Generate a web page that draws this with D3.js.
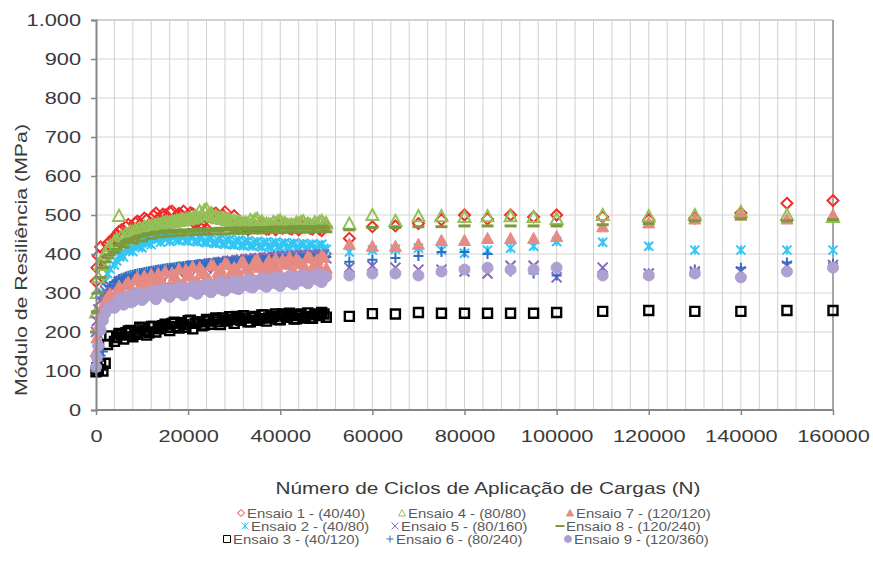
<!DOCTYPE html>
<html>
<head>
<meta charset="utf-8">
<script src="https://cdn.jsdelivr.net/npm/d3@7/dist/d3.min.js"></script>
<style>
  body { margin: 0; background: #fff; }
  text { font-family: "Liberation Sans", Arial, sans-serif; }
</style>
</head>
<body>
<div id="chart"></div>
<script>
// data
// dense part of the test (0 - 50000 cycles), two interleaved readings
var denseX = [0, 200, 500, 1000, 1500, 2000, 2500, 3000, 4000, 5000,
  6000, 7000, 8000, 9000, 10000, 11000, 12000, 13000, 14000, 15000,
  16000, 17000, 18000, 19000, 20000, 21000, 22000, 23000, 24000, 25000,
  26000, 27000, 28000, 29000, 30000, 31000, 32000, 33000, 34000, 35000,
  36000, 37000, 38000, 39000, 40000, 41000, 42000, 43000, 44000, 45000,
  46000, 47000, 48000, 49000, 50000];
var midX = [4500, 5500, 6500, 7500, 8500, 9500, 10500, 11500, 12500, 13500,
  14500, 15500, 16500, 17500, 18500, 19500, 20500, 21500, 22500, 23500,
  24500, 25500, 26500, 27500, 28500, 29500, 30500, 31500, 32500, 33500,
  34500, 35500, 36500, 37500, 38500, 39500, 40500, 41500, 42500, 43500,
  44500, 45500, 46500, 47500, 48500, 49500];
var sparseX = [55000, 60000, 65000, 70000, 75000, 80000, 85000, 90000, 95000, 100000,
  110000, 120000, 130000, 140000, 150000, 160000];

var ens1Dense = [330, 365, 395, 418, 385, 405, 425, 432, 440, 458,
  448, 476, 460, 484, 466, 488, 470, 505, 480, 500,
  508, 484, 504, 510, 488, 503, 482, 476, 464, 494,
  505, 490, 508, 484, 498, 476, 470, 462, 478, 468,
  476, 464, 474, 462, 472, 478, 466, 474, 462, 472,
  478, 464, 474, 460, 470];
var ens2Dense = [130, 155, 195, 255, 300, 330, 350, 362, 372, 394,
  392, 410, 406, 421, 416, 431, 424, 440, 430, 444,
  432, 446, 434, 447, 433, 446, 431, 444, 429, 442,
  427, 440, 425, 438, 423, 436, 421, 434, 420, 432,
  418, 431, 417, 430, 416, 429, 415, 428, 414, 427,
  413, 426, 412, 425, 412];
var ens3Dense = [98, 108, 104, 115, 100, 120, 168, 190, 176, 196,
  182, 203, 188, 198, 210, 192, 214, 200, 208, 220,
  204, 225, 210, 219, 229, 208, 226, 216, 232, 220,
  236, 219, 230, 239, 222, 235, 242, 226, 238, 230,
  244, 228, 238, 246, 231, 241, 248, 233, 243, 236,
  249, 235, 244, 250, 238];
var ens4Dense = [250, 300, 340, 372, 392, 402, 412, 420, 432, 498,
  442, 450, 456, 461, 464, 468, 471, 474, 476, 479,
  481, 483, 485, 487, 489, 491, 494, 503, 515, 505,
  498, 494, 491, 489, 486, 483, 480, 478, 482, 490,
  484, 477, 475, 478, 486, 480, 475, 473, 478, 484,
  477, 472, 478, 485, 479];
var ens5Dense = [200, 228, 258, 280, 295, 305, 312, 318, 316, 330,
  324, 338, 330, 344, 334, 350, 338, 354, 343, 358,
  348, 362, 352, 366, 356, 370, 360, 373, 363, 376,
  366, 379, 369, 382, 371, 384, 373, 386, 375, 388,
  377, 390, 379, 392, 381, 393, 383, 394, 385, 396,
  386, 397, 388, 398, 389];
var ens6Dense = [100, 112, 126, 140, 150, 245, 298, 318, 328, 336,
  340, 344, 347, 350, 352, 355, 357, 359, 361, 363,
  365, 366, 368, 369, 371, 372, 373, 374, 375, 376,
  377, 378, 379, 380, 381, 381, 382, 383, 383, 384,
  385, 385, 386, 386, 387, 387, 388, 388, 389, 389,
  390, 390, 391, 391, 392];
var ens7Dense = [150, 185, 215, 245, 265, 280, 290, 298, 290, 318,
  296, 328, 305, 340, 312, 322, 348, 310, 335, 356,
  318, 345, 362, 326, 352, 368, 330, 358, 340, 372,
  334, 362, 376, 340, 366, 350, 380, 344, 370, 386,
  348, 374, 356, 388, 350, 378, 392, 355, 382, 362,
  394, 358, 386, 396, 364];
var ens8Dense = [200, 252, 300, 340, 365, 380, 390, 398, 404, 422,
  418, 436, 428, 444, 434, 450, 440, 455, 444, 459,
  446, 461, 448, 462, 449, 463, 450, 464, 451, 465,
  452, 466, 452, 466, 453, 467, 453, 467, 454, 468,
  454, 468, 455, 469, 455, 469, 456, 470, 456, 470,
  456, 470, 457, 471, 457];
var ens9Dense = [110, 135, 165, 205, 230, 248, 258, 265, 262, 285,
  270, 292, 278, 300, 282, 296, 305, 284, 300, 310,
  290, 306, 314, 294, 310, 318, 298, 312, 322, 302,
  318, 328, 306, 320, 332, 310, 325, 334, 314, 328,
  338, 316, 330, 340, 318, 333, 344, 322, 336, 346,
  325, 340, 348, 328, 342];

var ens1Mid = [450, 462, 470, 458, 480, 474, 492, 468, 498, 490,
  502, 495, 510, 486, 500, 492, 506, 478, 470, 486,
  498, 502, 494, 500, 488, 474, 468, 476, 470, 466,
  472, 468, 476, 464, 470, 474, 466, 470, 464, 472,
  468, 474, 466, 470, 464, 468];
var ens2Mid = [382, 400, 414, 412, 426, 420, 436, 428, 442, 438,
  444, 440, 446, 437, 444, 435, 442, 433, 440, 431,
  438, 429, 436, 427, 434, 425, 432, 423, 430, 422,
  429, 421, 428, 420, 427, 419, 426, 418, 425, 417,
  424, 416, 423, 415, 422, 414];
var ens3Mid = [186, 192, 198, 204, 194, 212, 204, 198, 214, 210,
  216, 212, 222, 214, 224, 212, 230, 222, 226, 218,
  228, 232, 226, 236, 228, 232, 240, 230, 236, 226,
  240, 234, 244, 236, 240, 232, 246, 238, 242, 234,
  246, 240, 236, 246, 242, 246];
var ens4Mid = [436, 446, 452, 458, 462, 466, 470, 472, 475, 477,
  480, 482, 484, 486, 488, 490, 492, 498, 510, 512,
  500, 496, 492, 490, 487, 484, 481, 479, 480, 487,
  488, 480, 476, 476, 482, 484, 478, 474, 475, 481,
  482, 474, 475, 481, 482, 478];
var ens5Mid = [322, 328, 334, 336, 340, 343, 346, 349, 351, 354,
  356, 358, 360, 362, 364, 366, 368, 370, 372, 374,
  376, 377, 379, 380, 382, 383, 384, 386, 387, 388,
  389, 390, 391, 392, 393, 394, 395, 395, 396, 396,
  397, 397, 398, 398, 399, 399];
var ens6Mid = [332, 338, 342, 346, 349, 351, 354, 356, 358, 360,
  362, 364, 365, 367, 368, 370, 371, 372, 373, 374,
  375, 376, 377, 378, 379, 380, 380, 381, 382, 383,
  383, 384, 384, 385, 385, 386, 386, 387, 387, 388,
  388, 389, 389, 390, 390, 391];
var ens7Mid = [305, 300, 322, 300, 334, 318, 344, 304, 330, 350,
  326, 312, 352, 336, 320, 360, 344, 328, 366, 350,
  336, 370, 354, 342, 374, 358, 346, 378, 362, 350,
  382, 366, 354, 384, 370, 358, 386, 374, 360, 388,
  376, 364, 390, 378, 366, 392];
var ens8Mid = [412, 426, 432, 438, 440, 446, 448, 452, 452, 456,
  454, 458, 456, 460, 457, 460, 458, 461, 459, 462,
  460, 463, 460, 463, 461, 464, 461, 464, 462, 465,
  462, 465, 463, 466, 463, 466, 464, 467, 464, 467,
  465, 468, 465, 468, 466, 468];
var ens9Mid = [272, 280, 286, 276, 294, 290, 288, 298, 292, 306,
  300, 296, 308, 302, 300, 312, 306, 302, 316, 310,
  306, 320, 312, 308, 324, 316, 312, 328, 320, 316,
  332, 324, 320, 336, 326, 322, 338, 330, 326, 340,
  332, 330, 342, 336, 332, 344];

var ens1Sparse = [440, 470, 472, 478, 488, 500, 490, 500, 495, 500, 495, 488, 492, 505, 530, 537];
var ens2Sparse = [405, 410, 412, 415, 410, 402, 410, 415, 420, 432, 430, 420, 410, 410, 410, 410];
var ens3Sparse = [240, 247, 246, 250, 248, 248, 248, 248, 248, 250, 253, 255, 253, 253, 255, 255];
var ens4Sparse = [478, 500, 485, 497, 497, 495, 497, 497, 495, 490, 500, 497, 500, 508, 500, 495];
var ens5Sparse = [365, 370, 365, 360, 360, 355, 350, 370, 370, 340, 365, 350, 355, 355, 370, 372];
var ens6Sparse = [380, 385, 390, 395, 405, 405, 400, 355, 350, 345, 350, 350, 360, 365, 378, 375];
var ens7Sparse = [425, 420, 420, 425, 435, 435, 440, 440, 440, 445, 470, 480, 490, 500, 490, 500];
var ens8Sparse = [462, 468, 468, 470, 470, 472, 472, 472, 472, 472, 475, 478, 485, 490, 485, 488];
var ens9Sparse = [345, 350, 350, 345, 355, 360, 365, 360, 360, 365, 345, 345, 350, 340, 355, 365];

var seriesNames = ["Ensaio 1 - (40/40)", "Ensaio 2 - (40/80)", "Ensaio 3 - (40/120)",
  "Ensaio 4 - (80/80)", "Ensaio 5 - (80/160)", "Ensaio 6 - (80/240)",
  "Ensaio 7 - (120/120)", "Ensaio 8 - (120/240)", "Ensaio 9 - (120/360)"];

var yTicks = [0, 100, 200, 300, 400, 500, 600, 700, 800, 900, 1000];
var yTickLabels = ["0", "100", "200", "300", "400", "500", "600", "700", "800", "900", "1.000"];
var xTicks = [0, 20000, 40000, 60000, 80000, 100000, 120000, 140000, 160000];

// marker look for each series
var styles = [
  {shape: "diamond", color: "#f22b2b", fill: false},
  {shape: "star", color: "#33c6f4", fill: false},
  {shape: "square", color: "#000000", fill: false},
  {shape: "triangle", color: "#93c057", fill: false},
  {shape: "x", color: "#8667b8", fill: false},
  {shape: "plus", color: "#2e6fc4", fill: false},
  {shape: "triangle", color: "#e68a84", fill: true},
  {shape: "dash", color: "#7b9a3c", fill: false},
  {shape: "circle", color: "#afa0d2", fill: true}
];

var denseData = [ens1Dense, ens2Dense, ens3Dense, ens4Dense, ens5Dense, ens6Dense, ens7Dense, ens8Dense, ens9Dense];
var midData = [ens1Mid, ens2Mid, ens3Mid, ens4Mid, ens5Mid, ens6Mid, ens7Mid, ens8Mid, ens9Mid];
var sparseData = [ens1Sparse, ens2Sparse, ens3Sparse, ens4Sparse, ens5Sparse, ens6Sparse, ens7Sparse, ens8Sparse, ens9Sparse];

var width = 873, height = 561;
var svg = d3.select("#chart").append("svg")
  .attr("width", width)
  .attr("height", height);

var x = d3.scaleLinear().domain([0, 160000]).range([96, 833]);
var y = d3.scaleLinear().domain([0, 1000]).range([410, 20]);

// stretch texts so they look as wide as in the picture
function widen(sel, k) {
  sel.each(function() {
    var w = this.getComputedTextLength();
    d3.select(this).attr("textLength", w * k).attr("lengthAdjust", "spacingAndGlyphs");
  });
}

function markerPath(shape, r) {
  if (shape == "diamond") return "M0," + (-r) + "L" + r + ",0L0," + r + "L" + (-r) + ",0Z";
  if (shape == "triangle") return "M0," + (-r) + "L" + r + "," + (r * 0.85) + "L" + (-r) + "," + (r * 0.85) + "Z";
  if (shape == "square") return "M" + (-r) + "," + (-r) + "h" + (2 * r) + "v" + (2 * r) + "h" + (-2 * r) + "Z";
  if (shape == "plus") return "M" + (-r) + ",0H" + r + "M0," + (-r) + "V" + r;
  if (shape == "x") return "M" + (-r) + "," + (-r) + "L" + r + "," + r + "M" + (-r) + "," + r + "L" + r + "," + (-r);
  if (shape == "star") return "M" + (-r) + "," + (-r) + "L" + r + "," + r + "M" + (-r) + "," + r + "L" + r + "," + (-r) + "M0," + (-r) + "V" + r;
  if (shape == "dash") return "M" + (-r) + ",0H" + r;
  if (shape == "circle") return d3.symbol(d3.symbolCircle, Math.PI * r * r)();
}

var markerSize = {diamond: 5.5, triangle: 6, square: 4.5, plus: 5, x: 5, star: 4.5, dash: 6, circle: 5.5};

// grid lines
var grid = svg.append("g");
grid.selectAll(".hgrid")
  .data(yTicks.filter(function(d) { return d > 0; }))
  .enter().append("line")
  .attr("x1", x(0)).attr("x2", x(160000))
  .attr("y1", function(d) { return y(d); })
  .attr("y2", function(d) { return y(d); })
  .style("stroke", function(d) { return d == 1000 ? "#a6a6a6" : "#d4d4d4"; })
  .style("stroke-width", 1);
grid.selectAll(".vgrid")
  .data(d3.range(4000, 160001, 4000))
  .enter().append("line")
  .attr("x1", function(d) { return x(d); })
  .attr("x2", function(d) { return x(d); })
  .attr("y1", y(1000)).attr("y2", y(0))
  .style("stroke", function(d) { return d == 160000 ? "#a6a6a6" : "#d0d0d0"; })
  .style("stroke-width", function(d) { return d == 160000 ? 2 : 1; });

// points for each series
for (var s = 0; s < 9; s++) {
  var st = styles[s];
  var pts = denseX.map(function(d, i) { return {x: d, y: denseData[s][i]}; })
    .concat(midX.map(function(d, i) { return {x: d, y: midData[s][i]}; }))
    .concat(sparseX.map(function(d, i) { return {x: d, y: sparseData[s][i]}; }));
  var r = markerSize[st.shape];
  var sw = st.shape == "dash" ? 3 : (st.shape == "square" ? 2.4 : (st.fill ? 1 : 2));
  svg.append("g").selectAll("path")
    .data(pts)
    .enter().append("path")
    .attr("transform", function(d) { return "translate(" + x(d.x) + "," + y(d.y) + ")"; })
    .attr("d", markerPath(st.shape, r))
    .style("fill", st.fill ? st.color : "none")
    .style("stroke", st.color)
    .style("stroke-width", sw);
}

// axes
var yAxis = svg.append("g")
  .attr("transform", "translate(" + x(0) + ",0)")
  .call(d3.axisLeft(y).tickValues(yTicks).tickSize(5).tickPadding(10)
    .tickFormat(function(d, i) { return yTickLabels[i]; }));
var xAxis = svg.append("g")
  .attr("transform", "translate(0," + y(0) + ")")
  .call(d3.axisBottom(x).tickValues(xTicks).tickSize(5).tickPadding(15)
    .tickFormat(d3.format("d")));

[yAxis, xAxis].forEach(function(ax) {
  ax.select(".domain").style("stroke", "#868686").style("stroke-width", 2);
  ax.selectAll(".tick line").style("stroke", "#868686").style("stroke-width", 1.5);
  ax.selectAll("text").style("font-size", "17px").style("fill", "#3a3a3a")
    .style("font-family", "'Liberation Sans', Arial, sans-serif");
  widen(ax.selectAll("text"), 1.28);
});
xAxis.select(".domain").attr("d", "M" + x(0) + ",0H" + x(160000));

// axis titles
svg.append("text")
  .attr("x", 488).attr("y", 494)
  .attr("text-anchor", "middle")
  .style("font-size", "17px").style("fill", "#3a3a3a")
  .text("Número de Ciclos de Aplicação de Cargas (N)")
  .attr("textLength", 425).attr("lengthAdjust", "spacingAndGlyphs");

svg.append("text")
  .attr("transform", "translate(27,260) rotate(-90)")
  .attr("text-anchor", "middle")
  .style("font-size", "17px").style("fill", "#3a3a3a")
  .text("Módulo de  Resiliência (MPa)")
  .attr("textLength", 272).attr("lengthAdjust", "spacingAndGlyphs");

// legend, three columns
var legendPos = [[241, 513], [245, 526], [227, 539], [402, 513], [395, 526], [390, 539], [570, 513], [560, 526], [568, 539]];
var legend = svg.append("g");
seriesNames.forEach(function(name, i) {
  var st = styles[i];
  var p = legendPos[i];
  legend.append("path")
    .attr("transform", "translate(" + p[0] + "," + p[1] + ")")
    .attr("d", markerPath(st.shape, st.shape == "dash" ? 4.5 : 3.5))
    .style("fill", st.fill ? st.color : "none")
    .style("stroke", st.color)
    .style("stroke-width", st.shape == "dash" ? 2 : 1);
  var t = legend.append("text")
    .attr("x", p[0] + 6).attr("y", p[1] + 4.5)
    .style("font-size", "12px").style("fill", "#5a5a5a")
    .text(name);
  widen(t, 1.24);
});
</script>
</body>
</html>
